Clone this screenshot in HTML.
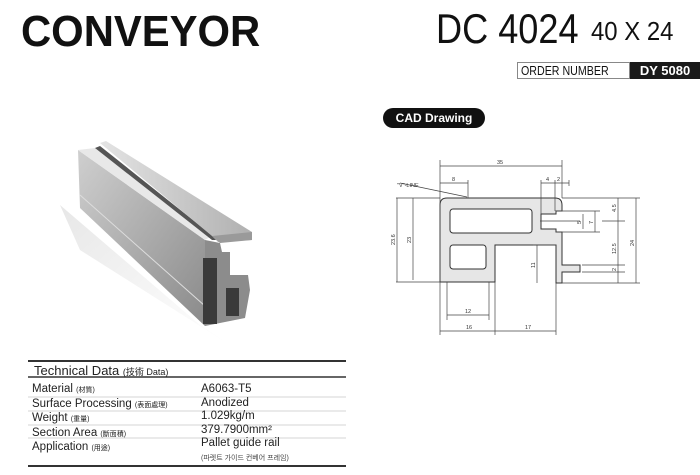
<!DOCTYPE html>
<html><head><meta charset="utf-8"><style>
body{margin:0;width:700px;height:475px;background:#fff;position:relative;overflow:hidden;font-family:"Liberation Sans","Noto Sans CJK KR",sans-serif}
.a{position:absolute;white-space:nowrap}
</style></head><body>
<div class="a" style="left:21px;top:7px;font-size:44px;font-weight:bold;transform:scaleX(0.95);transform-origin:left;color:#111">CONVEYOR</div>
<div class="a" style="left:436px;top:5px;font-size:42px;color:#111;transform:scaleX(0.86);transform-origin:left">DC 4024</div>
<div class="a" style="left:591px;top:16px;font-size:26px;color:#111;transform:scaleX(0.92);transform-origin:left">40 X 24</div>
<div class="a" style="left:517px;top:62px;width:113px;height:17px;border:1px solid #888;box-sizing:border-box;"></div>
<div class="a" style="left:521px;top:63px;font-size:13px;line-height:15px;color:#111;transform:scaleX(0.82);transform-origin:left">ORDER NUMBER</div>
<div class="a" style="left:630px;top:62px;width:70px;height:17px;background:#1a1a1a;color:#fff;font-size:13px;font-weight:bold;line-height:17px;text-align:center">DY 5080</div>
<div class="a" style="left:383px;top:108px;width:102px;height:20px;background:#111;border-radius:10px;color:#fff;font-size:12px;font-weight:bold;line-height:20px;text-align:center">CAD Drawing</div>

<svg class="a" style="left:0;top:0" width="700" height="475">
<defs>
<linearGradient id="g1" x1="0" y1="0" x2="1" y2="1"><stop offset="0" stop-color="#cfcfcf"/><stop offset="1" stop-color="#8a8a8a"/></linearGradient>
<linearGradient id="g2" x1="0" y1="0" x2="1" y2="0"><stop offset="0" stop-color="#e4e4e4"/><stop offset="1" stop-color="#b0b0b0"/></linearGradient>
<linearGradient id="sh" x1="0" y1="0" x2="1" y2="1"><stop offset="0" stop-color="#ddd"/><stop offset="1" stop-color="#fff"/></linearGradient>
</defs>
<polygon points="60,205 200,325 230,345 80,250" fill="url(#sh)" opacity="0.7"/>
<polygon points="78,150 205,240 205,326 80,208" fill="url(#g1)"/>
<line x1="80" y1="195" x2="205" y2="306" stroke="#ddd" stroke-width="1"/>
<polygon points="78,150 95,148 212,236 205,240" fill="#e8e8e8"/>
<polygon points="95,148 100,146 218,240 212,240" fill="#555"/>
<polygon points="100,143 106,141 252,232 252,240 218,242 212,236" fill="url(#g2)"/>
<polygon points="212,236 252,232 252,240 220,243" fill="#9a9a9a"/>
<polygon points="205,240 220,243 222,252 230,252 230,275 248,275 250,290 245,318 205,326" fill="#8c8c8c"/>
<rect x="203" y="258" width="14" height="66" fill="#3a3a3a"/>
<rect x="226" y="288" width="13" height="28" fill="#3a3a3a"/>

<g stroke="#333" stroke-width="1" fill="none">
<path d="M440,282 L440,205 Q440,198 447,198 L555,198 Q562,198 562,205 L562,211 L556,211 L556,214 L541,214 L541,229 L556,229 L556,232 L562,232 L562,265 L580,265 L580,272 L562,272 L562,283 L556,283 L556,245 L495,245 L495,282 Z" fill="#e6e6e6"/>
<rect x="450" y="209" width="82" height="24" rx="3" fill="#fff"/>
<rect x="450" y="245" width="36" height="24" rx="3" fill="#fff"/>
</g>
<g stroke="#444" stroke-width="0.7" fill="none">
<line x1="440" y1="160" x2="440" y2="335"/><line x1="562" y1="160" x2="562" y2="198"/>
<line x1="440" y1="166" x2="562" y2="166"/>
<line x1="468" y1="180" x2="468" y2="198"/><line x1="440" y1="183" x2="468" y2="183"/>
<line x1="541" y1="180" x2="541" y2="214"/><line x1="555" y1="180" x2="555" y2="211"/><line x1="569" y1="180" x2="569" y2="186"/>
<line x1="541" y1="183" x2="569" y2="183"/>
<line x1="396" y1="198" x2="440" y2="198"/><line x1="396" y1="282" x2="440" y2="282"/>
<line x1="397" y1="198" x2="397" y2="282"/><line x1="413" y1="198" x2="413" y2="280"/>
<line x1="562" y1="198" x2="640" y2="198"/><line x1="562" y1="283" x2="640" y2="283"/>
<line x1="618" y1="198" x2="618" y2="283"/><line x1="636" y1="198" x2="636" y2="283"/>
<line x1="556" y1="211" x2="600" y2="211"/><line x1="556" y1="232" x2="600" y2="232"/>
<line x1="583" y1="214" x2="583" y2="229"/><line x1="595" y1="211" x2="595" y2="232"/>
<line x1="540" y1="221" x2="580" y2="221"/><line x1="602" y1="221" x2="625" y2="221"/>
<line x1="582" y1="265" x2="625" y2="265"/><line x1="582" y1="272" x2="625" y2="272"/>
<line x1="537" y1="245" x2="537" y2="283"/><line x1="533" y1="245" x2="556" y2="245"/>
<line x1="447" y1="282" x2="447" y2="320"/><line x1="489" y1="282" x2="489" y2="320"/>
<line x1="447" y1="315" x2="489" y2="315"/>
<line x1="495" y1="282" x2="495" y2="335"/><line x1="556" y1="283" x2="556" y2="335"/>
<line x1="440" y1="331" x2="556" y2="331"/>
<line x1="400" y1="183" x2="467" y2="197"/>
</g>
<g font-family="Liberation Sans" font-size="5.5" fill="#333">
<text x="497" y="164">35</text><text x="452" y="181">8</text><text x="546" y="181">4</text><text x="557" y="181">2</text>
<text x="397" y="187">"V"-LINE</text><text x="465" y="313">12</text><text x="466" y="329">16</text><text x="525" y="329">17</text>
<text x="395" y="245" transform="rotate(-90 395 245)">23.6</text>
<text x="411" y="243" transform="rotate(-90 411 243)">23</text>
<text x="535" y="268" transform="rotate(-90 535 268)">11</text>
<text x="581" y="224" transform="rotate(-90 581 224)">5</text>
<text x="593" y="224" transform="rotate(-90 593 224)">7</text>
<text x="616" y="212" transform="rotate(-90 616 212)">4.5</text>
<text x="616" y="254" transform="rotate(-90 616 254)">12.5</text>
<text x="616" y="271" transform="rotate(-90 616 271)">2</text>
<text x="634" y="246" transform="rotate(-90 634 246)">24</text>
</g>
<line x1="28" y1="361" x2="346" y2="361" stroke="#333" stroke-width="2"/>
<line x1="28" y1="377" x2="346" y2="377" stroke="#333" stroke-width="1.5"/>
<line x1="28" y1="466" x2="346" y2="466" stroke="#333" stroke-width="2"/>
<g stroke="#aaa" stroke-width="0.6"><line x1="28" y1="397" x2="346" y2="397"/><line x1="28" y1="411" x2="346" y2="411"/><line x1="28" y1="425" x2="346" y2="425"/><line x1="28" y1="438" x2="346" y2="438"/></g>
</svg>
<div class="a" style="left:34px;top:363px;font-size:13px;color:#222">Technical Data <span style="font-size:9px">(技術 Data)</span></div>
<div class="a" style="left:32px;top:383px;font-size:11.5px;line-height:13.6px;color:#222">Material <span style="font-size:7px">(材質)</span><br>Surface Processing <span style="font-size:7px">(表面處理)</span><br>Weight <span style="font-size:7px">(重量)</span><br>Section Area <span style="font-size:7px">(斷面積)</span><br>Application <span style="font-size:7px">(用途)</span></div>
<div class="a" style="left:201px;top:383px;font-size:11.5px;line-height:13.6px;color:#222">A6063-T5<br>Anodized<br>1.029kg/m<br>379.7900mm²<br>Pallet guide rail</div>
<div class="a" style="left:201px;top:453px;font-size:7px;color:#444">(파렛트 가이드 컨베어 프레임)</div>
</body></html>
